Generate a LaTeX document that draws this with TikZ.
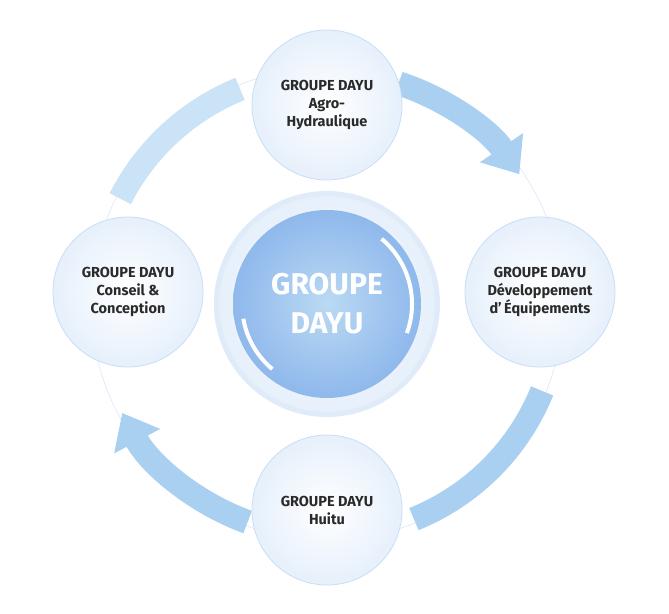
\documentclass[tikz,border=0pt]{standalone}
\usepackage{fontspec}
\setmainfont{Fira Sans}
\usetikzlibrary{arrows.meta,calc}
\definecolor{arr}{HTML}{A9D0F0}
\definecolor{arrd}{HTML}{8FB8EC}
\definecolor{sat}{HTML}{E6F0FB}
\definecolor{satb}{HTML}{C9DDF5}
\definecolor{txt}{HTML}{2A2A2A}
\begin{document}
\begin{tikzpicture}[x=1pt,y=1pt,
  sat/.style={circle,minimum size=150pt,inner sep=0pt,draw=satb,line width=0.8pt,
    inner color=white,outer color=sat,font=\bfseries\fontsize{14.5}{18}\selectfont,text=txt,align=center},
  band/.style={line width=24pt,arr},
  bandh/.style={line width=24pt,arr,-{Triangle[width=50pt,length=32pt]}}]
\useasboundingbox (0,0) rectangle (669,613);
\coordinate (c) at (327,309);
\draw[satb!70,line width=0.6pt] (c) circle[radius=236];
% arrows
\draw[bandh] ($(c)+(72:232)$) arc[start angle=72,end angle=34,radius=232];
\draw[band] ($(c)+(-22:232)$) arc[start angle=-22,end angle=-68,radius=232];
\draw[bandh] ($(c)+(250:232)$) arc[start angle=250,end angle=208,radius=232];
\draw[band,arr!60] ($(c)+(153:232)$) arc[start angle=153,end angle=112,radius=232];
% center
\fill[satb!60] (c) circle[radius=113];
\shade[inner color=white,outer color=sat] (c) circle[radius=108];
\shade[inner color=arr!80,outer color=arrd] (c) circle[radius=94];
\draw[white,line width=4pt] ($(c)+(50:85)$) arc[start angle=50,end angle=-20,radius=85];
\draw[white,line width=4pt] ($(c)+(190:85)$) arc[start angle=190,end angle=230,radius=85];
\node[font=\bfseries\fontsize{30}{39}\selectfont,text=white,align=center] (m) at (c) {GROUPE\\DAYU};
% satellites
\node[sat] (t) at (327,508) {GROUPE DAYU\\Agro-\\Hydraulique};
\node[sat] (l) at (128,321) {GROUPE DAYU\\Conseil \&\\Conception};
\node[sat] (r) at (540,321) {GROUPE DAYU\\Développement\\d’\,Équipements};
\node[sat] (b) at (327,103) {GROUPE DAYU\\Huitu};
\end{tikzpicture}
\end{document}
